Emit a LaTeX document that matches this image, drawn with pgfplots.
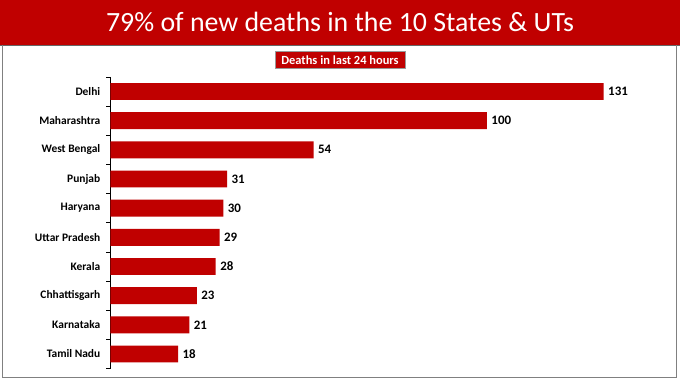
\documentclass[border=0pt]{standalone}
\usepackage{pgfplots}
\pgfplotsset{compat=1.18}
\usepackage{fontspec}
\setmainfont{Carlito}
\definecolor{barred}{HTML}{C00000}
\begin{document}
\begin{tikzpicture}[x=1bp,y=1bp]
\path[fill=white] (0,0) rectangle (680,-383);
\fill[barred] (0,0) rectangle (680,-45);
\draw[black!60, line width=0.8bp] (0,-45) -- (680,-45);
\draw[gray, line width=1.3bp] (2,-45) -- (2,-378) -- (677,-378) -- (677,-45);
\node[text=white, font=\fontsize{28}{32}\selectfont] at (340,-22) {79\% of new deaths in the 10 States \& UTs};
\node[fill=barred, draw=black!40, line width=0.4bp, text=white, font=\bfseries\fontsize{12.5}{14}\selectfont, minimum width=130bp, minimum height=17bp, inner sep=0pt] at (340,-60) {Deaths in last 24 hours};
\begin{axis}[
  at={(110bp,-369bp)}, anchor=south west,
  scale only axis, width=494bp, height=292bp,
  xmin=0, xmax=131, ymin=-0.5, ymax=9.5, y dir=reverse,
  enlargelimits=false, clip=false,
  xbar, bar width=17bp,
  axis x line=none, axis y line*=left, axis line style={-, black, line width=0.6bp},
  ytick={0,...,9},
  yticklabels={Delhi,Maharashtra,West Bengal,Punjab,Haryana,Uttar Pradesh,Kerala,Chhattisgarh,Karnataka,Tamil Nadu},
  major tick length=0pt,
  minor ytick={-0.5,0.5,...,9.5}, minor tick length=4bp, tick align=outside,
  minor tick style={black, line width=0.6bp},
  yticklabel style={font=\bfseries\fontsize{11.5}{13}\selectfont, xshift=-6.5bp},
  /pgf/number format/assume math mode=true,
  point meta=x,
  nodes near coords,
  nodes near coords style={font=\bfseries\fontsize{13}{15}\selectfont, anchor=west, xshift=1bp, text=black},
]
\addplot[fill=barred, draw=none] coordinates {(131,0) (100,1) (54,2) (31,3) (30,4) (29,5) (28,6) (23,7) (21,8) (18,9)};
\end{axis}
\end{tikzpicture}
\end{document}
